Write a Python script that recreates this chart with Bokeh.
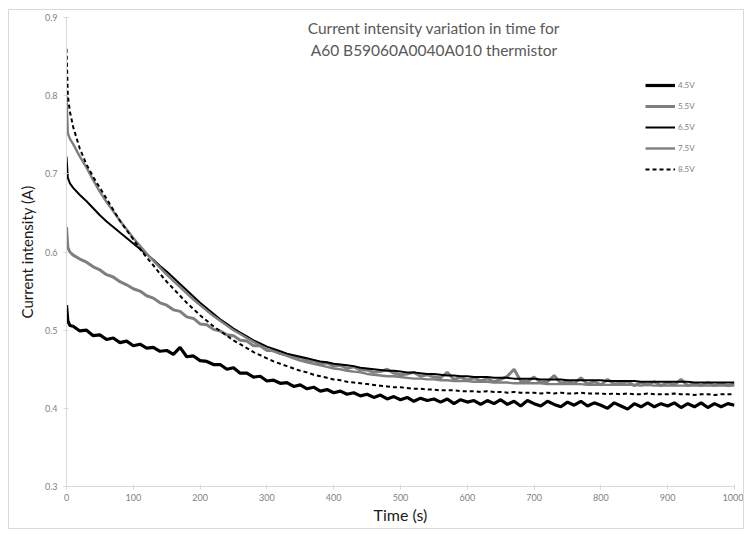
from bokeh.plotting import figure
from bokeh.models import Range1d, Legend, LegendItem, Label, FixedTicker, ColumnDataSource
from bokeh.embed import file_html
from bokeh.resources import INLINE

# ---- data ----
time_s = [0, 2, 5] + list(range(10, 1001, 10))

v45 = [0.532, 0.512, 0.506,
       0.505, 0.499, 0.500, 0.493, 0.494, 0.488, 0.490, 0.484, 0.486, 0.480,
       0.482, 0.477, 0.478, 0.473, 0.474, 0.469, 0.478, 0.466, 0.467, 0.461,
       0.460, 0.456, 0.456, 0.450, 0.452, 0.445, 0.445, 0.440, 0.441, 0.435,
       0.436, 0.432, 0.433, 0.428, 0.430, 0.425, 0.427, 0.422, 0.424, 0.420,
       0.422, 0.418, 0.420, 0.416, 0.418, 0.414, 0.417, 0.412, 0.415, 0.411,
       0.414, 0.409, 0.413, 0.410, 0.412, 0.408, 0.412, 0.406, 0.411, 0.408,
       0.410, 0.405, 0.410, 0.406, 0.411, 0.405, 0.409, 0.403, 0.410, 0.406,
       0.403, 0.409, 0.405, 0.402, 0.408, 0.404, 0.409, 0.403, 0.407, 0.404,
       0.400, 0.407, 0.403, 0.399, 0.406, 0.402, 0.407, 0.402, 0.406, 0.403,
       0.407, 0.401, 0.406, 0.402, 0.407, 0.401, 0.406, 0.402, 0.406, 0.404]

v55 = [0.632, 0.606, 0.600,
       0.596, 0.591, 0.587, 0.581, 0.577, 0.571, 0.568, 0.562, 0.558, 0.553,
       0.550, 0.544, 0.541, 0.535, 0.532, 0.526, 0.524, 0.517, 0.515, 0.508,
       0.507, 0.501, 0.499, 0.494, 0.493, 0.487, 0.486, 0.480, 0.480, 0.474,
       0.474, 0.470, 0.469, 0.465, 0.465, 0.461, 0.461, 0.457, 0.458, 0.454,
       0.455, 0.451, 0.453, 0.449, 0.449, 0.446, 0.447, 0.450, 0.445, 0.443,
       0.444, 0.446, 0.441, 0.443, 0.440, 0.439, 0.446, 0.437, 0.440, 0.436,
       0.439, 0.435, 0.438, 0.434, 0.437, 0.441, 0.450, 0.435, 0.434, 0.440,
       0.433, 0.434, 0.442, 0.432, 0.435, 0.432, 0.439, 0.431, 0.434, 0.430,
       0.437, 0.431, 0.432, 0.434, 0.429, 0.433, 0.430, 0.434, 0.429, 0.433,
       0.430, 0.437, 0.429, 0.432, 0.429, 0.433, 0.429, 0.432, 0.429, 0.431]

v65 = [0.722, 0.695, 0.688,
       0.682, 0.673, 0.665, 0.656, 0.647, 0.639, 0.632, 0.625, 0.618, 0.611,
       0.604, 0.597, 0.590, 0.582, 0.575, 0.567, 0.559, 0.551, 0.543, 0.535,
       0.528, 0.521, 0.514, 0.508, 0.502, 0.497, 0.492, 0.487, 0.483, 0.479,
       0.476, 0.473, 0.470, 0.468, 0.466, 0.464, 0.462, 0.460, 0.459, 0.457,
       0.456, 0.455, 0.454, 0.452, 0.451, 0.450, 0.449, 0.448, 0.448, 0.447,
       0.446, 0.446, 0.445, 0.444, 0.444, 0.443, 0.442, 0.442, 0.441, 0.441,
       0.440, 0.440, 0.440, 0.439, 0.439, 0.439, 0.438, 0.438, 0.438, 0.438,
       0.437, 0.437, 0.437, 0.437, 0.436, 0.436, 0.436, 0.436, 0.436, 0.436,
       0.435, 0.435, 0.435, 0.435, 0.435, 0.434, 0.434, 0.434, 0.434, 0.434,
       0.434, 0.434, 0.434, 0.433, 0.433, 0.433, 0.433, 0.433, 0.433, 0.433]

v75 = [0.800, 0.752, 0.745,
       0.738, 0.722, 0.708, 0.692, 0.677, 0.664, 0.652, 0.640, 0.629, 0.618,
       0.608, 0.598, 0.589, 0.580, 0.571, 0.563, 0.555, 0.547, 0.539, 0.532,
       0.525, 0.518, 0.512, 0.506, 0.500, 0.495, 0.490, 0.485, 0.480, 0.476,
       0.473, 0.470, 0.467, 0.464, 0.461, 0.459, 0.457, 0.455, 0.453, 0.451,
       0.450, 0.448, 0.447, 0.446, 0.444, 0.443, 0.442, 0.441, 0.441, 0.440,
       0.439, 0.438, 0.438, 0.437, 0.437, 0.436, 0.436, 0.435, 0.435, 0.435,
       0.434, 0.434, 0.434, 0.433, 0.433, 0.433, 0.432, 0.432, 0.432, 0.432,
       0.432, 0.431, 0.431, 0.431, 0.431, 0.431, 0.431, 0.430, 0.430, 0.430,
       0.430, 0.430, 0.430, 0.430, 0.430, 0.429, 0.430, 0.429, 0.429, 0.429,
       0.429, 0.429, 0.429, 0.429, 0.429, 0.429, 0.429, 0.429, 0.429, 0.429]

v85 = [0.860, 0.800, 0.780,
       0.760, 0.732, 0.712, 0.696, 0.682, 0.668, 0.654, 0.640, 0.628, 0.616,
       0.604, 0.593, 0.583, 0.572, 0.562, 0.553, 0.544, 0.535, 0.527, 0.519,
       0.512, 0.505, 0.499, 0.493, 0.487, 0.482, 0.477, 0.472, 0.468, 0.464,
       0.460, 0.457, 0.454, 0.451, 0.448, 0.446, 0.443, 0.441, 0.439, 0.437,
       0.436, 0.434, 0.433, 0.432, 0.431, 0.430, 0.429, 0.428, 0.427, 0.427,
       0.426, 0.425, 0.425, 0.424, 0.424, 0.423, 0.423, 0.423, 0.422, 0.422,
       0.422, 0.421, 0.422, 0.421, 0.421, 0.420, 0.421, 0.420, 0.420, 0.420,
       0.419, 0.420, 0.419, 0.420, 0.419, 0.419, 0.420, 0.419, 0.419, 0.419,
       0.418, 0.419, 0.418, 0.419, 0.418, 0.418, 0.419, 0.418, 0.418, 0.418,
       0.419, 0.418, 0.418, 0.417, 0.418, 0.418, 0.417, 0.418, 0.418, 0.418]

series_names = ["4.5V", "5.5V", "6.5V", "7.5V", "8.5V"]
title_lines = ["Current intensity variation in time for", "A60 B59060A0040A010 thermistor"]
y_ticks = [0.3, 0.4, 0.5, 0.6, 0.7, 0.8, 0.9]
x_ticks = [0, 100, 200, 300, 400, 500, 600, 700, 800, 900, 1000]

FONT = "Lato"
GRAY = "#7f7f7f"

p = figure(width=736, height=520, output_backend="svg", toolbar_location=None,
           x_range=Range1d(0, 1000), y_range=Range1d(0.3, 0.9),
           min_border_left=57, min_border_right=11, min_border_top=7, min_border_bottom=44)
p.styles = {"border": "1px solid #d9d9d9", "box-sizing": "border-box",
            "margin-left": "8px", "margin-top": "9px"}
p.outline_line_color = None
p.xgrid.visible = False
p.ygrid.visible = False
p.background_fill_color = "white"
p.border_fill_color = "white"

src = ColumnDataSource(dict(t=time_s, a=v45, b=v55, c=v65, d=v75, e=v85))
styles = [("a", "black", 3.2, "solid"),
          ("b", GRAY, 3.0, "solid"),
          ("c", "black", 2.0, "solid"),
          ("d", GRAY, 2.4, "solid"),
          ("e", "black", 2.0, "4 3")]
renderers = []
for col, color, w, dash in styles:
    r = p.line("t", col, source=src, line_color=color, line_width=w, line_dash=dash)
    renderers.append(r)

for ax in (p.xaxis[0], p.yaxis[0]):
    ax.axis_line_color = "#d9d9d9"
    ax.major_tick_line_color = "#d9d9d9"
    ax.minor_tick_line_color = None
    ax.major_tick_in = 2
    ax.major_tick_out = 3
    ax.major_label_text_font = FONT
    ax.major_label_text_font_size = "9px"
    ax.major_label_text_color = GRAY
    ax.axis_label_text_font = FONT
    ax.axis_label_text_font_style = "normal"
    ax.axis_label_text_color = "#1a1a1a"

p.xaxis[0].ticker = FixedTicker(ticks=x_ticks)
p.yaxis[0].ticker = FixedTicker(ticks=y_ticks)
p.xaxis[0].major_label_standoff = 4
p.yaxis[0].major_label_standoff = 6
p.xaxis[0].axis_label = "Time (s)"
p.yaxis[0].axis_label = "Current intensity (A)"
p.xaxis[0].axis_label_text_font_size = "16px"
p.yaxis[0].axis_label_text_font_size = "15px"
p.xaxis[0].axis_label_standoff = 1
p.yaxis[0].axis_label_standoff = 6

legend = Legend(items=[LegendItem(label=n, renderers=[r]) for n, r in zip(series_names, renderers)],
                location=(579, 311), glyph_width=30, glyph_height=12, spacing=9,
                label_text_font=FONT, label_text_font_size="8px", label_text_color=GRAY,
                label_standoff=3, padding=0, margin=0, border_line_color=None,
                background_fill_alpha=0)
p.add_layout(legend)

for i, line in enumerate(title_lines):
    p.add_layout(Label(x=550, y=0.886 - i * 0.028, text=line, text_font=FONT,
                       text_font_size="15.5px", text_color="#595959",
                       text_align="center", text_baseline="middle"))

open("out.html", "w").write(file_html(p, INLINE))
